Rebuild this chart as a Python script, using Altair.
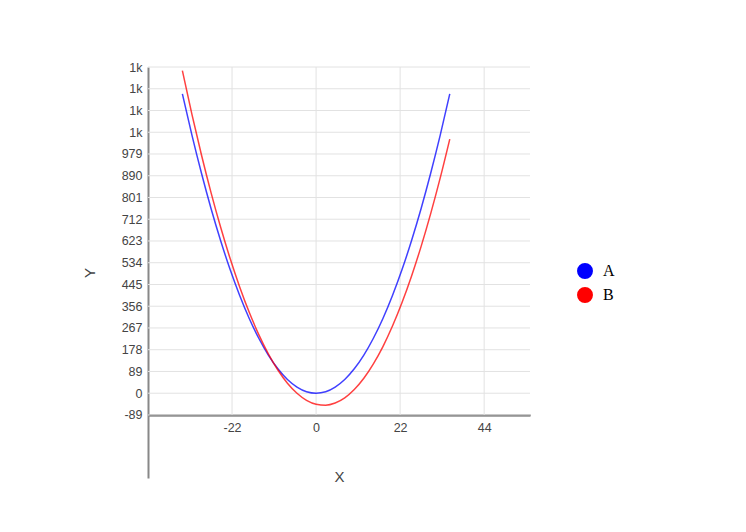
import altair as alt
import pandas as pd

xs = [-35, -32.5, -30, -27.5, -25, -22.5, -20, -17.5, -15, -12.5, -10, -7.5, -5, -2.5, 0,
      2.5, 5, 7.5, 10, 12.5, 15, 17.5, 20, 22.5, 25, 27.5, 30, 32.5, 35]
series_a = [1225, 1056, 900, 756, 625, 506, 400, 306, 225, 156, 100, 56, 25, 6, 0,
            6, 25, 56, 100, 156, 225, 306, 400, 506, 625, 756, 900, 1056, 1225]
series_b = [1320, 1141, 975, 821, 680, 551, 435, 331, 240, 161, 95, 41, 0, -29, -45,
            -49, -40, -19, 15, 61, 120, 191, 275, 371, 480, 601, 735, 881, 1040]
y_ticks = [-89, 0, 89, 178, 267, 356, 445, 534, 623, 712, 801, 890, 979, 1068, 1157, 1246, 1335]
x_ticks = [-22, 0, 22, 44]
x_domain = [-44, 56]
y_domain = [-347, 1335]

rows = []
for x, a, b in zip(xs, series_a, series_b):
    rows.append({"x": x, "y": a, "s": "A"})
    rows.append({"x": x, "y": b, "s": "B"})
df = pd.DataFrame(rows)

hgrid = pd.DataFrame({"y": y_ticks, "x0": x_domain[0], "x1": x_domain[1]})
vgrid = pd.DataFrame({"x": x_ticks, "y0": y_ticks[0], "y1": y_ticks[-1]})

xscale = alt.Scale(domain=x_domain, nice=False, zero=False)
yscale = alt.Scale(domain=y_domain, nice=False, zero=False)

x_axis = alt.Axis(values=x_ticks, grid=False, ticks=False, offset=-63,
                  labelExpr="'' + datum.value",
                  domainColor="#555555", domainWidth=2,
                  labelFont="Liberation Sans", labelFontSize=12.5, labelColor="#444444",
                  labelPadding=6, titleFont="Liberation Sans", titleFontSize=15,
                  titleFontWeight="normal", titleColor="#444444", titlePadding=36)
y_axis = alt.Axis(values=y_ticks, grid=False, ticks=False,
                  labelExpr="datum.value >= 1000 ? '1k' : '' + datum.value",
                  domainColor="#888888", domainWidth=2,
                  labelFont="Liberation Sans", labelFontSize=12.5, labelColor="#444444",
                  labelPadding=6, titleFont="Liberation Sans", titleFontSize=15,
                  titleFontWeight="normal", titleColor="#444444", titlePadding=24)

color_scale = alt.Scale(domain=["A", "B"], range=["#0000ff", "#ff0000"])
legend = alt.Legend(title=None, orient="none", legendX=429, legendY=196,
                    symbolType="circle", symbolSize=254, symbolOpacity=1,
                    symbolStrokeWidth=0,
                    labelFont="Liberation Serif", labelFontSize=16,
                    labelColor="#000000", rowPadding=8, labelOffset=10)

hrules = alt.Chart(hgrid).mark_rule(color="#e2e2e2", strokeWidth=1).encode(
    y=alt.Y("y:Q", scale=yscale, axis=y_axis, title="Y"),
    x=alt.X("x0:Q", scale=xscale, axis=x_axis, title="X"),
    x2="x1:Q",
)
vrules = alt.Chart(vgrid).mark_rule(color="#e2e2e2", strokeWidth=1).encode(
    x=alt.X("x:Q", scale=xscale, axis=x_axis, title="X"),
    y=alt.Y("y0:Q", scale=yscale, axis=y_axis, title="Y"),
    y2="y1:Q",
)

points = alt.Chart(df).mark_point(filled=True, opacity=0, size=1).encode(
    x=alt.X("x:Q", scale=xscale, title="X", axis=x_axis),
    y=alt.Y("y:Q", scale=yscale, title="Y", axis=y_axis),
    color=alt.Color("s:N", scale=color_scale, legend=legend),
)

lines = alt.Chart(df).mark_line(strokeWidth=1.5, opacity=0.75, interpolate="monotone").encode(
    x=alt.X("x:Q", scale=xscale, title="X", axis=x_axis),
    y=alt.Y("y:Q", scale=yscale, title="Y", axis=y_axis),
    color=alt.Color("s:N", scale=color_scale, legend=legend),
)

chart = alt.layer(hrules, vrules, points, lines).properties(
    width=382, height=411,
    autosize=alt.AutoSizeParams(type="none"),
    padding={"left": 140, "top": 59, "right": 208, "bottom": 46},
).configure_view(stroke=None)

chart.save("out.html", embed_options={"renderer": "svg", "actions": False})
